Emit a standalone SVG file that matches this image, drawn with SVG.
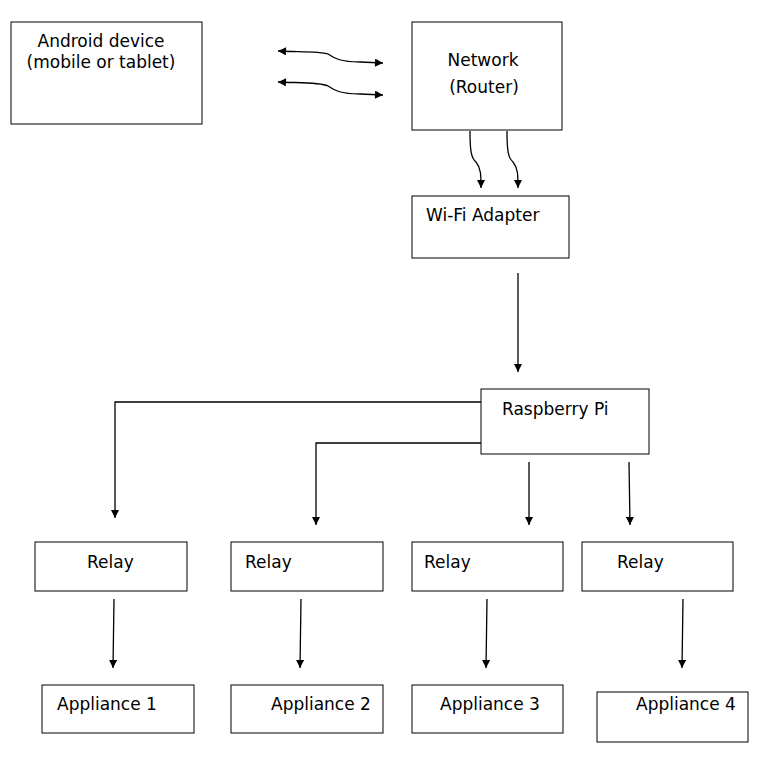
<svg xmlns="http://www.w3.org/2000/svg" width="759" height="760" viewBox="0 0 759 760">
<style>
.box{fill:#fff;stroke:#000;stroke-width:1}
.t{font-family:"DejaVu Sans","Liberation Sans",sans-serif;font-size:17px;fill:#000}
.c{fill:none;stroke:#000;stroke-width:1.3}
</style>
<defs>
<marker id="ah" viewBox="0 0 10 10" refX="10" refY="5" markerWidth="9" markerHeight="8" markerUnits="userSpaceOnUse" orient="auto-start-reverse">
<path d="M0,0 L10,5 L0,10 Z" fill="#000"/>
</marker>
</defs>
<rect width="759" height="760" fill="#fff"/>
<g id="android"><rect class="box" x="11" y="22" width="191" height="102"/>
<text class="t" x="101" y="47" text-anchor="middle">Android device</text>
<text class="t" x="101" y="68" text-anchor="middle">(mobile or tablet)</text></g>
<g id="network"><rect class="box" x="412" y="22" width="150" height="108"/>
<text class="t" x="483" y="66" text-anchor="middle">Network</text>
<text class="t" x="484" y="93" text-anchor="middle">(Router)</text></g>
<g id="wifi"><rect class="box" x="412" y="196" width="157" height="62"/>
<text class="t" x="426" y="221">Wi-Fi Adapter</text></g>
<g id="rpi"><rect class="box" x="481" y="389" width="168" height="65"/>
<text class="t" x="502" y="415">Raspberry Pi</text></g>
<g id="relay1"><rect class="box" x="35" y="542" width="152" height="49"/><text class="t" x="87" y="568">Relay</text></g>
<g id="relay2"><rect class="box" x="231" y="542" width="152" height="49"/><text class="t" x="245" y="568">Relay</text></g>
<g id="relay3"><rect class="box" x="412" y="542" width="151" height="49"/><text class="t" x="424" y="568">Relay</text></g>
<g id="relay4"><rect class="box" x="582" y="542" width="151" height="49"/><text class="t" x="617" y="568">Relay</text></g>
<g id="app1"><rect class="box" x="42" y="685" width="152" height="48"/><text class="t" x="57" y="710">Appliance 1</text></g>
<g id="app2"><rect class="box" x="231" y="685" width="152" height="48"/><text class="t" x="271" y="710">Appliance 2</text></g>
<g id="app3"><rect class="box" x="412" y="685" width="151" height="48"/><text class="t" x="440" y="710">Appliance 3</text></g>
<g id="app4"><rect class="box" x="597" y="692" width="151" height="50"/><text class="t" x="636" y="710">Appliance 4</text></g>
<g id="connectors">
<path class="c" d="M278,51 C300,52 320,51 328,54 C334,58 340,62 360,62 L383,63" marker-start="url(#ah)" marker-end="url(#ah)"/>
<path class="c" d="M278,82 C300,83 320,82 328,86 C334,90 340,94 360,94 L383,95" marker-start="url(#ah)" marker-end="url(#ah)"/>
<path class="c" d="M470,131 C470,150 471,158 476,162 C481,168 481,175 481,188" marker-end="url(#ah)"/>
<path class="c" d="M507,131 C507,150 508,158 513,162 C518,168 518,175 518,188" marker-end="url(#ah)"/>
<path class="c" d="M518,273 L518,372" marker-end="url(#ah)"/>
<path class="c" d="M481,402 L115,402 L115,518" marker-end="url(#ah)"/>
<path class="c" d="M481,443 L316,443 L316,525" marker-end="url(#ah)"/>
<path class="c" d="M529,462 L529,525" marker-end="url(#ah)"/>
<path class="c" d="M629,462 L630,525" marker-end="url(#ah)"/>
<path class="c" d="M114,599 L113,668" marker-end="url(#ah)"/>
<path class="c" d="M301,599 L300,668" marker-end="url(#ah)"/>
<path class="c" d="M487,599 L486,668" marker-end="url(#ah)"/>
<path class="c" d="M683,599 L682,668" marker-end="url(#ah)"/>
</g>
</svg>
